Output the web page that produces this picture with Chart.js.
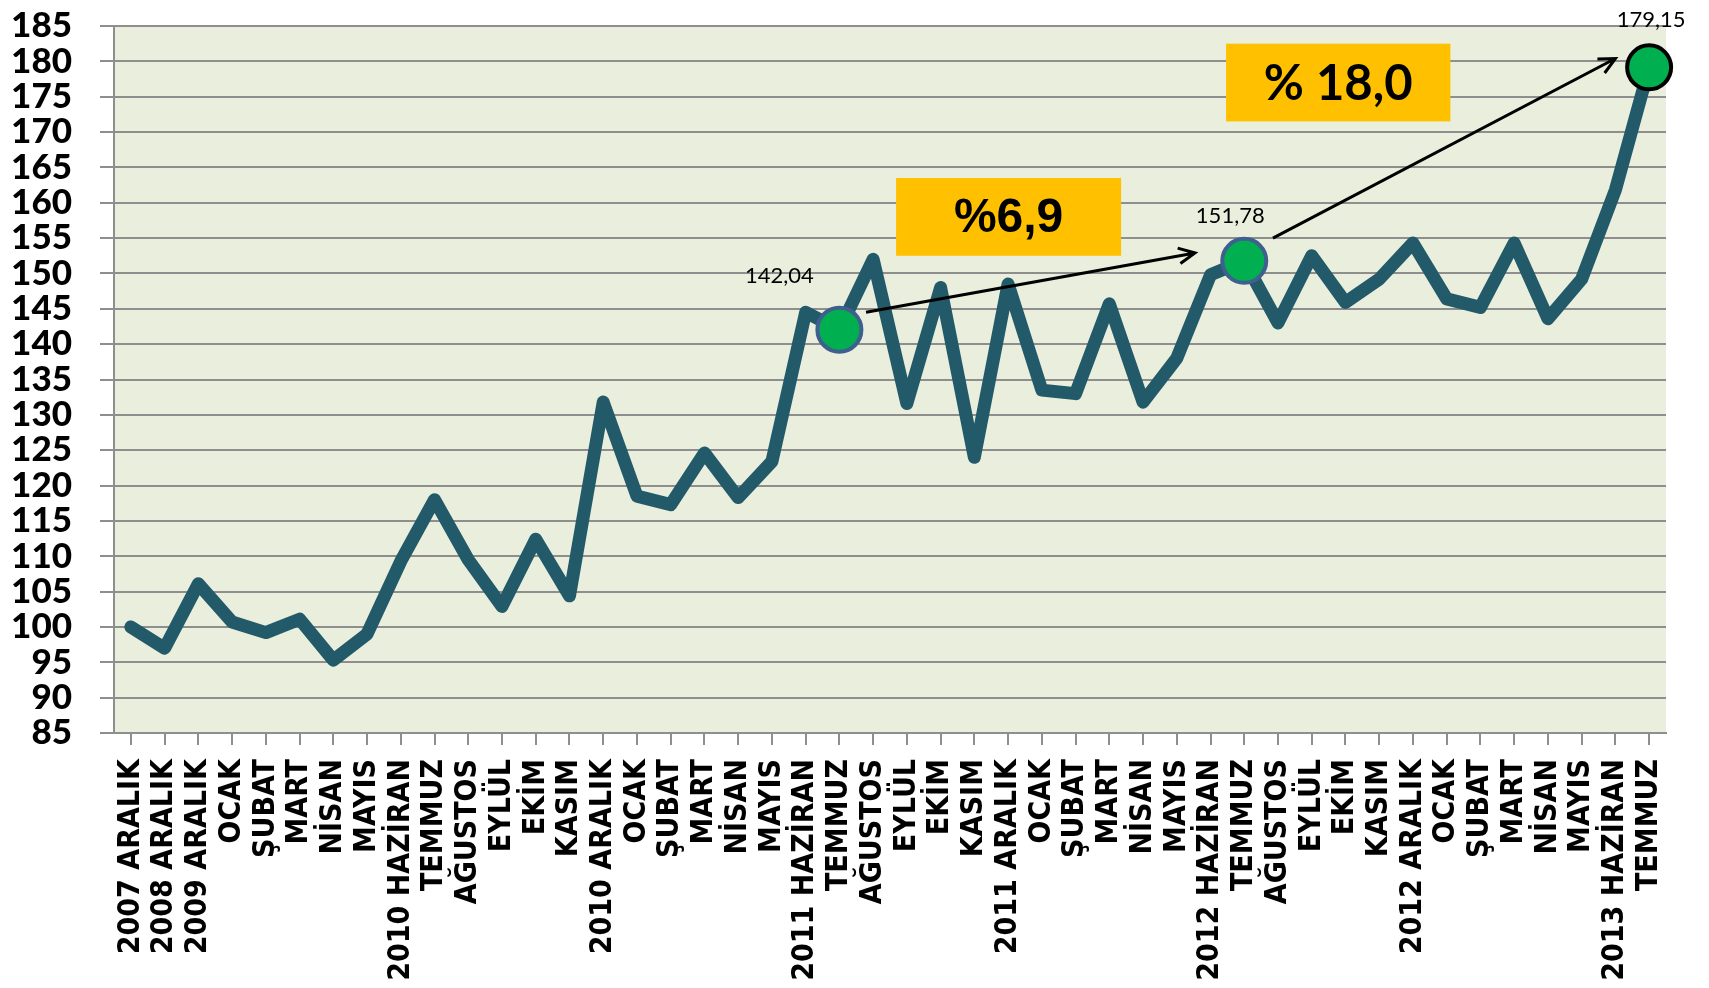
<!DOCTYPE html>
<html>
<head>
<meta charset="utf-8">
<script src="https://cdn.jsdelivr.net/npm/chart.js@4.4.1/dist/chart.umd.min.js"></script>
<style>
  html, body { margin: 0; padding: 0; background: #ffffff; }
  #wrap { width: 1709px; height: 988px; }
</style>
</head>
<body>
<div id="wrap"><canvas id="indexChart" width="1709" height="988"></canvas></div>
<script>
// month labels on the x axis
const categories = [
  '2007 ARALIK', '2008 ARALIK', '2009 ARALIK', 'OCAK', 'ŞUBAT', 'MART', 'NİSAN', 'MAYIS',
  '2010 HAZİRAN', 'TEMMUZ', 'AĞUSTOS', 'EYLÜL', 'EKİM', 'KASIM', '2010 ARALIK',
  'OCAK', 'ŞUBAT', 'MART', 'NİSAN', 'MAYIS', '2011 HAZİRAN', 'TEMMUZ', 'AĞUSTOS',
  'EYLÜL', 'EKİM', 'KASIM', '2011 ARALIK', 'OCAK', 'ŞUBAT', 'MART', 'NİSAN', 'MAYIS',
  '2012 HAZİRAN', 'TEMMUZ', 'AĞUSTOS', 'EYLÜL', 'EKİM', 'KASIM', '2012 ARALIK',
  'OCAK', 'ŞUBAT', 'MART', 'NİSAN', 'MAYIS', '2013 HAZİRAN', 'TEMMUZ'
];

// index values (2007 Aralık = 100)
const indexValues = [
  100, 97.0, 106.1, 100.7, 99.2, 101.1, 95.3, 99.0,
  109.3, 118.0, 109.5, 102.9, 112.4, 104.4, 131.8,
  118.5, 117.3, 124.6, 118.3, 123.4, 144.5, 142.04, 152.0,
  131.6, 148.0, 124.0, 148.5, 133.5, 133.0, 145.7, 131.8, 138.0,
  149.8, 151.78, 143.0, 152.5, 145.9, 149.2, 154.3,
  146.4, 145.2, 154.3, 143.6, 149.2, 161.8, 179.15
];

// y axis range
const yMin = 85;
const yMax = 185;
const yStep = 5;

// points that get a marker and a value label
const markedPoints = [21, 33, 45];
const markedLabels = ['142,04', '151,78', '179,15'];

// change boxes
const changeTexts = ['%6,9', '% 18,0'];

const ctx = document.getElementById('indexChart');

// plot area background
const plotBackground = {
  id: 'plotBackground',
  beforeDraw(chart) {
    const a = chart.chartArea;
    const c = chart.ctx;
    c.save();
    c.fillStyle = '#eaeedd';
    c.fillRect(a.left, a.top, a.right - a.left, a.bottom - a.top);
    c.restore();
  }
};

function drawArrow(c, x1, y1, x2, y2) {
  const ang = Math.atan2(y2 - y1, x2 - x1);
  const head = 18;
  c.beginPath();
  c.moveTo(x1, y1);
  c.lineTo(x2, y2);
  c.moveTo(x2 - head * Math.cos(ang - 0.45), y2 - head * Math.sin(ang - 0.45));
  c.lineTo(x2, y2);
  c.lineTo(x2 - head * Math.cos(ang + 0.45), y2 - head * Math.sin(ang + 0.45));
  c.stroke();
}

// arrows, yellow boxes and value labels
const callouts = {
  id: 'callouts',
  afterDatasetsDraw(chart) {
    const c = chart.ctx;
    const xs = chart.scales.x;
    const ys = chart.scales.y;
    const meta = chart.getDatasetMeta(0);

    // arrows (in data coordinates)
    c.save();
    c.strokeStyle = '#000000';
    c.lineWidth = 3;
    c.lineCap = 'butt';
    drawArrow(c, xs.getPixelForValue(21.79), ys.getPixelForValue(144.5),
                 xs.getPixelForValue(31.54), ys.getPixelForValue(152.9));
    drawArrow(c, xs.getPixelForValue(33.85), ys.getPixelForValue(155.0),
                 xs.getPixelForValue(44.0), ys.getPixelForValue(180.4));
    c.restore();

    // yellow boxes
    const boxes = [
      { x0: 22.68, x1: 29.35, y0: 163.5, y1: 152.5, font: 'bold 48px "Liberation Sans", Arial, sans-serif' },
      { x0: 32.46, x1: 39.11, y0: 182.5, y1: 171.5, font: 'bold 49px Lato, "Liberation Sans", sans-serif' }
    ];
    boxes.forEach((b, i) => {
      const l = xs.getPixelForValue(b.x0), r = xs.getPixelForValue(b.x1);
      const t = ys.getPixelForValue(b.y0), btm = ys.getPixelForValue(b.y1);
      c.save();
      c.fillStyle = '#ffc000';
      c.fillRect(l, t, r - l, btm - t);
      c.fillStyle = '#000000';
      c.font = b.font;
      c.textAlign = 'center';
      c.textBaseline = 'middle';
      c.fillText(changeTexts[i], (l + r) / 2, (t + btm) / 2 + 2);
      c.restore();
    });

    // value labels above the marked points
    const offsets = [[-60, -54], [-14, -45], [2, -47]];
    c.save();
    c.fillStyle = '#000000';
    c.font = '22px Lato, "Liberation Sans", sans-serif';
    c.textAlign = 'center';
    c.textBaseline = 'middle';
    markedPoints.forEach((idx, i) => {
      const p = meta.data[idx];
      c.fillText(markedLabels[i], p.x + offsets[i][0], p.y + offsets[i][1]);
    });
    c.restore();
  }
};

new Chart(ctx, {
  type: 'line',
  data: {
    labels: categories,
    datasets: [{
      data: indexValues,
      borderColor: '#235a69',
      borderWidth: 13,
      borderJoinStyle: 'round',
      borderCapStyle: 'round',
      tension: 0,
      fill: false,
      pointRadius: c => markedPoints.includes(c.dataIndex) ? 22 : 0,
      pointHoverRadius: c => markedPoints.includes(c.dataIndex) ? 22 : 0,
      pointBackgroundColor: '#00b050',
      pointBorderColor: c => c.dataIndex === 45 ? '#000000' : '#3f5f8f',
      pointBorderWidth: 4
    }]
  },
  options: {
    responsive: false,
    animation: false,
    layout: { padding: { left: 0, right: 43, top: 22, bottom: 0 } },
    plugins: {
      legend: { display: false },
      tooltip: { enabled: false }
    },
    scales: {
      x: {
        offset: true,
        afterFit: s => { s.height = 255; },
        grid: {
          drawOnChartArea: false,
          drawTicks: true,
          tickLength: 12,
          color: '#8e8e8e',
          lineWidth: 2
        },
        border: { display: true, color: '#8e8e8e', width: 2 },
        ticks: {
          autoSkip: false,
          minRotation: 90,
          maxRotation: 90,
          padding: 14,
          color: '#000000',
          font: { family: '"DejaVu Sans Condensed", "DejaVu Sans", sans-serif', weight: 'bold', size: 30 }
        }
      },
      y: {
        min: yMin,
        max: yMax,
        afterFit: s => { s.width = 114; s.paddingTop = 0; s.paddingBottom = 0; },
        grid: {
          color: '#8e8e8e',
          lineWidth: 2,
          tickLength: 14
        },
        border: { display: true, color: '#8e8e8e', width: 2 },
        ticks: {
          stepSize: yStep,
          autoSkip: false,
          padding: 28,
          color: '#000000',
          font: { family: 'Lato, "Liberation Sans", sans-serif', weight: 900, size: 35, lineHeight: 1 }
        }
      }
    }
  },
  plugins: [plotBackground, callouts]
});
</script>
</body>
</html>
